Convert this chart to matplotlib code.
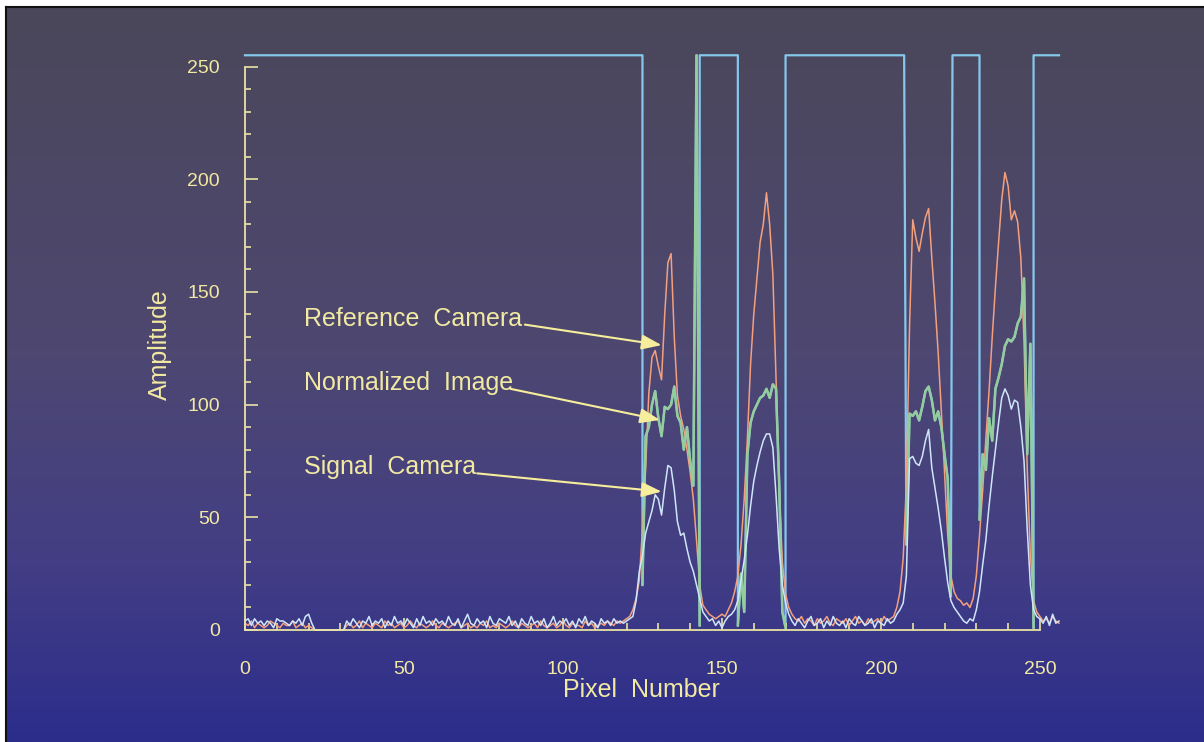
import numpy as np
import matplotlib.pyplot as plt
from matplotlib.colors import LinearSegmentedColormap

plt.rcParams['font.family'] = ['Liberation Sans', 'DejaVu Sans']

# pixel index 0..256
pixels = np.arange(257)

# reference camera (orange)
ref = [3, 2, 4, 1, 3, 2, 1, 2, 4, 3, 2, 1, 3, 2, 2, 4, 1, 2, 3, 1, 2, 1,
       0, 0, 0, 0, 0, 0, 0, 0, 0, 0,
       2, 3, 1, 2, 4, 1, 3, 2, 1, 3,
       2, 1, 4, 2, 3, 1, 2, 3, 1, 2,
       4, 2, 1, 3, 2, 1, 2, 4, 2, 1,
       3, 2, 1, 2, 3, 4, 1, 2, 3, 1,
       2, 1, 3, 2, 4, 1, 2, 1, 3, 2,
       1, 2, 4, 2, 1, 3, 2, 1, 2, 3,
       1, 4, 2, 1, 2, 3, 1, 2, 4, 2,
       1, 3, 2, 2, 1, 4, 2, 3, 1, 2,
       3, 2, 4, 3, 2, 4, 3,
       4, 5, 6, 9, 14, 22,
       45, 72, 105, 121, 124, 117, 111, 140, 163, 167, 130, 104, 95, 89, 80, 70, 58, 40, 20,
       11, 9, 7, 6, 5, 6, 7, 6, 9, 12, 17,
       24, 38, 58, 85, 118, 140, 156, 172, 180, 194, 180, 158, 112, 62, 30, 16, 10,
       7, 5, 4, 6, 3, 5, 4, 2, 5, 3, 4, 6, 3, 2, 5, 4, 3, 5, 2, 4, 6, 3, 4, 2, 5, 3, 4, 5, 3, 6, 4, 5,
       6, 10, 17, 32, 65, 135, 182, 174, 168, 176, 183, 187, 165, 145, 123, 97, 70, 42, 24,
       17, 14, 13, 11, 12, 10, 14, 24,
       42, 62, 85, 106, 130, 152, 172, 191, 203, 197, 182, 186, 181, 165, 128, 72, 33, 13, 8,
       6, 4, 5, 3, 6, 4, 3]

# signal camera (light blue)
sig = [4, 5, 2, 5, 3, 4, 2, 4, 3, 1, 5, 4, 4, 3, 2, 4, 3, 5, 2, 6, 7, 3,
       0, 0, 0, 0, 0, 0, 0, 0, 0, 0,
       4, 2, 5, 3, 1, 4, 3, 6, 2, 4,
       3, 5, 1, 4, 2, 6, 3, 4, 2, 5,
       3, 1, 5, 2, 6, 3, 4, 2, 5, 3,
       4, 2, 6, 3, 2, 5, 1, 4, 7, 3,
       2, 5, 3, 4, 1, 6, 3, 2, 5, 4,
       3, 6, 2, 4, 1, 5, 3, 2, 6, 3,
       4, 2, 5, 1, 3, 6, 2, 4, 3, 5,
       2, 4, 1, 5, 3, 6, 2, 4, 3, 1,
       5, 3, 4, 2, 5, 3, 4,
       3, 4, 5, 6, 13, 26,
       33, 43, 48, 53, 60, 58, 51, 63, 73, 72, 62, 48, 42, 43, 36, 30, 26, 20, 14,
       8, 6, 4, 5, 2, 4, 1, 4, 6, 7, 9,
       13, 22, 31, 42, 55, 66, 73, 79, 84, 87, 87, 81, 60, 36, 20, 12, 7,
       4, 2, 5, 3, 1, 4, 6, 2, 3, 5, 1, 4, 2, 6, 3, 2, 4, 1, 5, 3, 2, 6, 4, 2, 3, 5, 1, 4, 3, 2, 5, 3,
       4, 7, 9, 12, 24, 76, 77, 74, 73, 77, 84, 89, 72, 63, 54, 44, 32, 21, 13,
       10, 8, 6, 4, 3, 5, 4, 9,
       17, 29, 40, 55, 68, 80, 92, 103, 107, 104, 98, 102, 101, 90, 75, 45, 20, 9, 6,
       5, 3, 6, 2, 7, 3, 4]

# normalized image (green), only defined where the mask is open
norm_125 = [20, 86, 90, 100, 106, 94, 86, 99, 98, 100, 108, 95, 92, 80, 90, 75, 64, 255, 2]
norm_155 = [2, 25, 8, 78, 92, 97, 100, 103, 104, 107, 103, 109, 107, 65, 8, 1]
norm_208 = [38, 96, 95, 97, 93, 99, 106, 108, 102, 93, 97, 90, 78, 67, 15]
norm_231 = [49, 78, 71, 94, 84, 107, 112, 118, 126, 129, 128, 130, 136, 139, 156, 78, 127, 1]
norm_starts = [125, 155, 208, 231]

# threshold mask (cyan): 255 where closed, follows the normalized image where open
mask_edges = [0, 125, 143, 155, 170, 207.3, 222.5, 231, 248, 256]
mask_levels = [255, 0, 255, 0, 255, 0, 255, 0, 255]

norm = np.full(len(pixels), np.nan)
for s, seg in zip(norm_starts, [norm_125, norm_155, norm_208, norm_231]):
    norm[s:s + len(seg)] = seg

cx, cy = [], []
for i in range(len(mask_levels)):
    a, b = mask_edges[i], mask_edges[i + 1]
    if mask_levels[i] == 255:
        cx += [a, b]
        cy += [255, 255]
    else:
        idx = pixels[(pixels >= a) & (pixels <= b) & ~np.isnan(norm)]
        cx += list(idx)
        cy += list(norm[idx])

txt_col = '#f2e9a2'
ax_col = '#e9e2a6'

fig = plt.figure(figsize=(12.04, 7.42), dpi=100)

# gradient background with thin black frame
bg = fig.add_axes([6 / 1204, 0, 1 - 6 / 1204, 735 / 742])
cmap = LinearSegmentedColormap.from_list('bg', [(0.0, '#4a475a'), (0.45, '#4e4870'),
                                                (0.75, '#433e84'), (1.0, '#2c2d8c')])
bg.imshow(np.linspace(0, 1, 256).reshape(-1, 1), aspect='auto', cmap=cmap,
          extent=[0, 1, 0, 1], origin='upper')
bg.set_xticks([])
bg.set_yticks([])
for side in ['right', 'bottom']:
    bg.spines[side].set_visible(False)
for side in ['top', 'left']:
    bg.spines[side].set_color('#111111')
    bg.spines[side].set_linewidth(1.5)

ax = fig.add_axes([245 / 1204, 112 / 742, 814 / 1204, 581.5 / 742])
ax.patch.set_alpha(0)

ax.plot(cx, cy, color='#86c8ec', lw=1.6, zorder=1, clip_on=False)
ax.plot(pixels, ref, color='#f4a07e', lw=1.1, zorder=2, clip_on=False)
ax.plot(pixels, norm, color='#94cc9e', lw=1.8, zorder=3, clip_on=False)
ax.plot(pixels, sig, color='#cfe6fa', lw=1.1, zorder=4, clip_on=False)

ax.set_xlim(0, 256)
ax.set_ylim(0, 258)
for side in ['top', 'right']:
    ax.spines[side].set_visible(False)
for side in ['left', 'bottom']:
    ax.spines[side].set_color(ax_col)
    ax.spines[side].set_linewidth(1.3)
    ax.spines[side].set_bounds(0, 250)
    ax.spines[side].set_zorder(5)

ax.set_xticks(range(0, 251, 50))
ax.set_xticks(range(0, 251, 10), minor=True)
ax.set_yticks(range(0, 251, 50))
ax.set_yticks(range(0, 251, 10), minor=True)
ax.tick_params(axis='both', which='both', direction='in', color=ax_col, width=1.2,
               labelcolor=txt_col, labelsize=14)
ax.tick_params(axis='x', which='major', length=9, pad=22)
ax.tick_params(axis='x', which='minor', length=5)
ax.tick_params(axis='y', which='major', length=9, pad=18)
ax.tick_params(axis='y', which='minor', length=4.5)

ax.set_xlabel('Pixel  Number', color=txt_col, fontsize=18, va='center')
ax.xaxis.set_label_coords(0.4865, -0.103)
ax.set_ylabel('Amplitude', color=txt_col, fontsize=18, va='center')
ax.yaxis.set_label_coords(-0.1044, 0.49)

labels = ['Reference  Camera', 'Normalized  Image', 'Signal  Camera']
label_pos = [(18.6, 138), (18.6, 109.6), (18.6, 72.3)]
arrow_start = [(88.0, 135.5), (83.5, 107.0), (73.0, 69.5)]
arrow_tip = [(131.0, 126.4), (130.5, 93.2), (131.0, 61.4)]
for lab, pos, st, tip in zip(labels, label_pos, arrow_start, arrow_tip):
    ax.text(pos[0], pos[1], lab, color=txt_col, fontsize=18, va='center', ha='left', zorder=6)
    ax.annotate('', xy=tip, xytext=st, zorder=6,
                arrowprops=dict(arrowstyle='-|>,head_length=1.2,head_width=0.45',
                                color='#f6ee9c', lw=1.5, shrinkA=0, shrinkB=0))

fig.savefig('out.png', dpi=100)
